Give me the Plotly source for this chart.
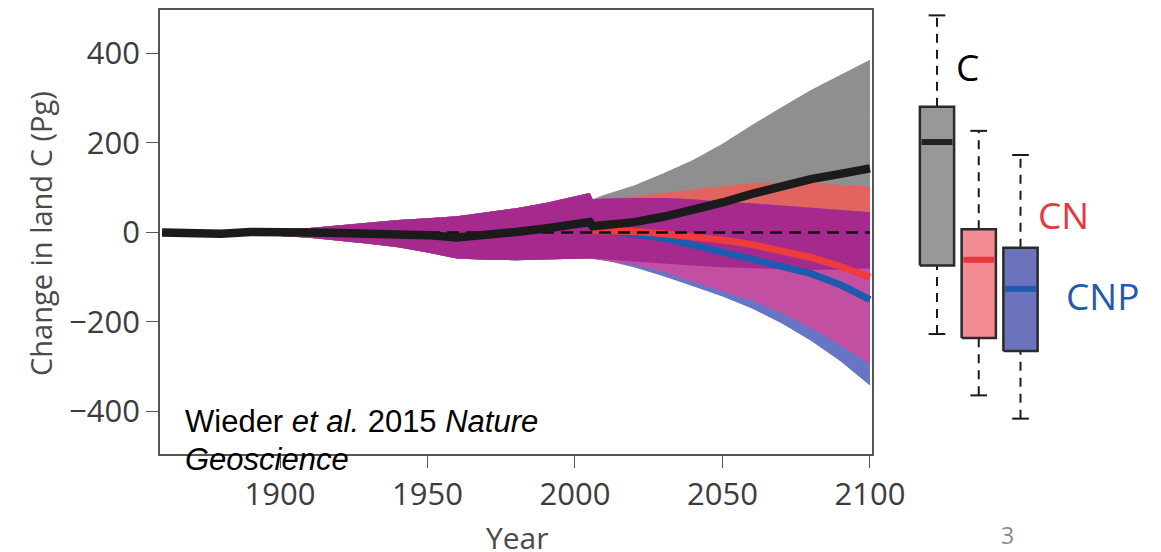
import numpy as np
import plotly.graph_objects as go

# ---- historical period (same ensemble for all model configurations) ----
HIST_YEARS = [1860, 1870, 1880, 1890, 1900, 1910, 1920, 1930, 1940, 1950,
              1960, 1970, 1980, 1990, 2000, 2005]
HIST_MEAN = [0, -3, -3, 1, 2, 0, -1, -2, -3, -6, -11, -6, 1, 9, 16, 23]
HIST_LO = [-1, -2, -3, -4, -8, -12, -18, -25, -33, -45, -58, -61, -62, -60, -59, -58]
HIST_HI = [1, 1, 2, 4, 6, 10, 16, 21, 28, 32, 36, 45, 54, 66, 80, 88]

# ---- future projections ----
FUT_YEARS = [2006, 2010, 2020, 2030, 2040, 2050, 2060, 2070, 2080, 2090, 2100]

C_MEAN = [14, 16, 23, 35, 50, 67, 86, 104, 119, 131, 143]
C_LO = [-58, -60, -65, -70, -74, -78, -80, -82, -84, -83, -80]
C_HI = [74, 84, 105, 132, 162, 198, 240, 280, 318, 352, 386]

CN_MEAN = [4, 4, 2, -3, -9, -17, -27, -40, -56, -76, -100]
CN_LO = [-58, -62, -72, -88, -110, -132, -152, -180, -214, -252, -295]
CN_HI = [74, 77, 81, 89, 96, 104, 110, 111, 110, 106, 102]

CNP_MEAN = [4, 3, -4, -13, -28, -44, -59, -74, -92, -117, -150]
CNP_LO = [-58, -62, -78, -98, -120, -143, -170, -203, -242, -288, -342]
CNP_HI = [74, 76, 77, 77, 74, 68, 65, 60, 56, 50, 45]

# ---- distribution of the 2100 change ----
BOX_NAMES = ["C", "CN", "CNP"]
BOX_UPPER = [485, 227, 173]
BOX_Q3 = [281, 7, -34]
BOX_MEDIAN = [202, -61, -126]
BOX_Q1 = [-74, -236, -265]
BOX_LOWER = [-227, -364, -416]

X_TICKS = [1900, 1950, 2000, 2050, 2100]
Y_TICKS = [-400, -200, 0, 200, 400]

# ---- styling ----
W, H = 1161, 552
ML, MR, MT, MB = 160, 0, 10, 98
PW, PH = W - ML - MR, H - MT - MB

GREY = "#8f8f8f"
SALMON = "#e2645f"
BLUE_BAND = "#6675c4"
PINK = "#c24fa2"
PURPLE = "#a62a8d"
LINE_C = "#1b1b1b"
LINE_CN = "#ee3b3b"
LINE_CNP = "#1c5bb0"
BOX_FILL = ["#98989a", "#f28b92", "#6b73bd"]
BOX_MED = ["#222222", "#e8373d", "#1f5aae"]
AXIS = "#555555"
TICK_FONT = "Open Sans"


def px(x):
    return (x - ML) / PW


def py(y):
    return (H - MB - y) / PH


years = np.array(HIST_YEARS + FUT_YEARS, dtype=float)
c_lo = np.array(HIST_LO + C_LO, dtype=float)
c_hi = np.array(HIST_HI + C_HI, dtype=float)
cn_lo = np.array(HIST_LO + CN_LO, dtype=float)
cn_hi = np.array(HIST_HI + CN_HI, dtype=float)
cnp_lo = np.array(HIST_LO + CNP_LO, dtype=float)
cnp_hi = np.array(HIST_HI + CNP_HI, dtype=float)


def band(x, lo, hi, color):
    x = list(x)
    return go.Scatter(
        x=x + x[::-1], y=list(hi) + list(lo)[::-1],
        fill="toself", fillcolor=color, mode="lines",
        line=dict(width=0), hoverinfo="skip", showlegend=False,
    )


fig = go.Figure()

# ensemble spread: single-model regions first, overlaps painted on top
fig.add_trace(band(years, c_lo, c_hi, GREY))
fig.add_trace(band(years, cn_lo, cn_hi, SALMON))
fig.add_trace(band(years, cnp_lo, cnp_hi, BLUE_BAND))
fig.add_trace(band(years, np.maximum(cn_lo, cnp_lo), np.minimum(cn_hi, cnp_hi), PINK))
fig.add_trace(band(years,
                   np.maximum.reduce([c_lo, cn_lo, cnp_lo]),
                   np.minimum.reduce([c_hi, cn_hi, cnp_hi]), PURPLE))

# ensemble means
fig.add_trace(go.Scatter(x=FUT_YEARS, y=CNP_MEAN, mode="lines",
                         line=dict(color=LINE_CNP, width=7), showlegend=False))
fig.add_trace(go.Scatter(x=FUT_YEARS, y=CN_MEAN, mode="lines",
                         line=dict(color=LINE_CN, width=7), showlegend=False))

# zero reference
fig.add_trace(go.Scatter(x=[years[0], years[-1]], y=[0, 0], mode="lines",
                         line=dict(color="#111111", width=2.5, dash="12px,7px"),
                         showlegend=False))

fig.add_trace(go.Scatter(x=HIST_YEARS + FUT_YEARS, y=HIST_MEAN + C_MEAN, mode="lines",
                         line=dict(color=LINE_C, width=8.5), showlegend=False))

# box plots of 2100 values
half_w = 0.41
cap_w = 0.2
for i, name in enumerate(BOX_NAMES):
    p = i + 1
    q1, q3, med = BOX_Q1[i], BOX_Q3[i], BOX_MEDIAN[i]
    lo, hi = BOX_LOWER[i], BOX_UPPER[i]
    whisk = dict(color="#1a1a1a", width=2, dash="9px,7px")
    fig.add_trace(go.Scatter(x=[p, p], y=[q3, hi], mode="lines", line=whisk,
                             xaxis="x2", yaxis="y", showlegend=False))
    fig.add_trace(go.Scatter(x=[p, p], y=[lo, q1], mode="lines", line=whisk,
                             xaxis="x2", yaxis="y", showlegend=False))
    for v in (lo, hi):
        fig.add_trace(go.Scatter(x=[p - cap_w, p + cap_w], y=[v, v], mode="lines",
                                 line=dict(color="#1a1a1a", width=2),
                                 xaxis="x2", yaxis="y", showlegend=False))
    fig.add_trace(go.Scatter(
        x=[p - half_w, p + half_w, p + half_w, p - half_w, p - half_w],
        y=[q1, q1, q3, q3, q1], fill="toself", fillcolor=BOX_FILL[i],
        mode="lines", line=dict(color="#2a2a2a", width=2.5),
        xaxis="x2", yaxis="y", showlegend=False))
    fig.add_trace(go.Scatter(x=[p - half_w + 0.04, p + half_w - 0.04], y=[med, med],
                             mode="lines", line=dict(color=BOX_MED[i], width=6),
                             xaxis="x2", yaxis="y", showlegend=False))

annotations = [
    dict(text="Change in land C (Pg)", x=px(41), y=py(234), textangle=-90,
         font=dict(family=TICK_FONT, size=29, color="#4a4a4a")),
    dict(text="Year", x=px(517), y=py(537),
         font=dict(family=TICK_FONT, size=30, color="#4a4a4a")),
    dict(text="C", x=px(967), y=py(66),
         font=dict(family="Open Sans", size=37, color="#000000")),
    dict(text="CN", x=px(1063), y=py(214),
         font=dict(family="Open Sans", size=37, color="#e8373d")),
    dict(text="CNP", x=px(1102), y=py(295),
         font=dict(family="Open Sans", size=37, color="#1f5aae")),
    dict(text="3", x=px(1007), y=py(535),
         font=dict(family="Open Sans", size=23, color="#8a8a8a")),
    dict(text="Wieder <i>et al.</i> 2015 <i>Nature</i>", x=px(183), y=py(421),
         xanchor="left",
         font=dict(family="Liberation Sans", size=31, color="#000000")),
    dict(text="<i>Geoscience</i>", x=px(183), y=py(459), xanchor="left",
         font=dict(family="Liberation Sans", size=31, color="#000000")),
]
for a in annotations:
    a.setdefault("xanchor", "center")
    a.update(xref="paper", yref="paper", yanchor="middle", showarrow=False)

fig.update_layout(
    template="none",
    width=W, height=H,
    margin=dict(l=ML, r=MR, t=MT, b=MB, pad=0, autoexpand=False),
    paper_bgcolor="white", plot_bgcolor="white",
    showlegend=False,
    xaxis=dict(
        domain=[0, px(872)], range=[1859.3, 2100.7],
        tickvals=X_TICKS, ticks="outside", ticklen=12, tickwidth=1.2,
        tickcolor=AXIS, showline=True, linecolor=AXIS, linewidth=1.5,
        mirror=True, showgrid=False, zeroline=False, automargin=False,
        tickfont=dict(family=TICK_FONT, size=31, color="#3c3c3c"),
    ),
    yaxis=dict(
        range=[-495, 497], tickvals=Y_TICKS, ticks="outside", ticklen=12,
        tickwidth=1.2, tickcolor=AXIS, showline=True, linecolor=AXIS,
        linewidth=1.5, mirror=True, showgrid=False, zeroline=False,
        automargin=False,
        tickfont=dict(family=TICK_FONT, size=31, color="#3c3c3c"),
    ),
    xaxis2=dict(domain=[px(900), px(1060)], range=[0.114, 3.946],
                anchor="y", visible=False, showgrid=False, zeroline=False),
    annotations=annotations,
)

fig.write_html("out.html")
